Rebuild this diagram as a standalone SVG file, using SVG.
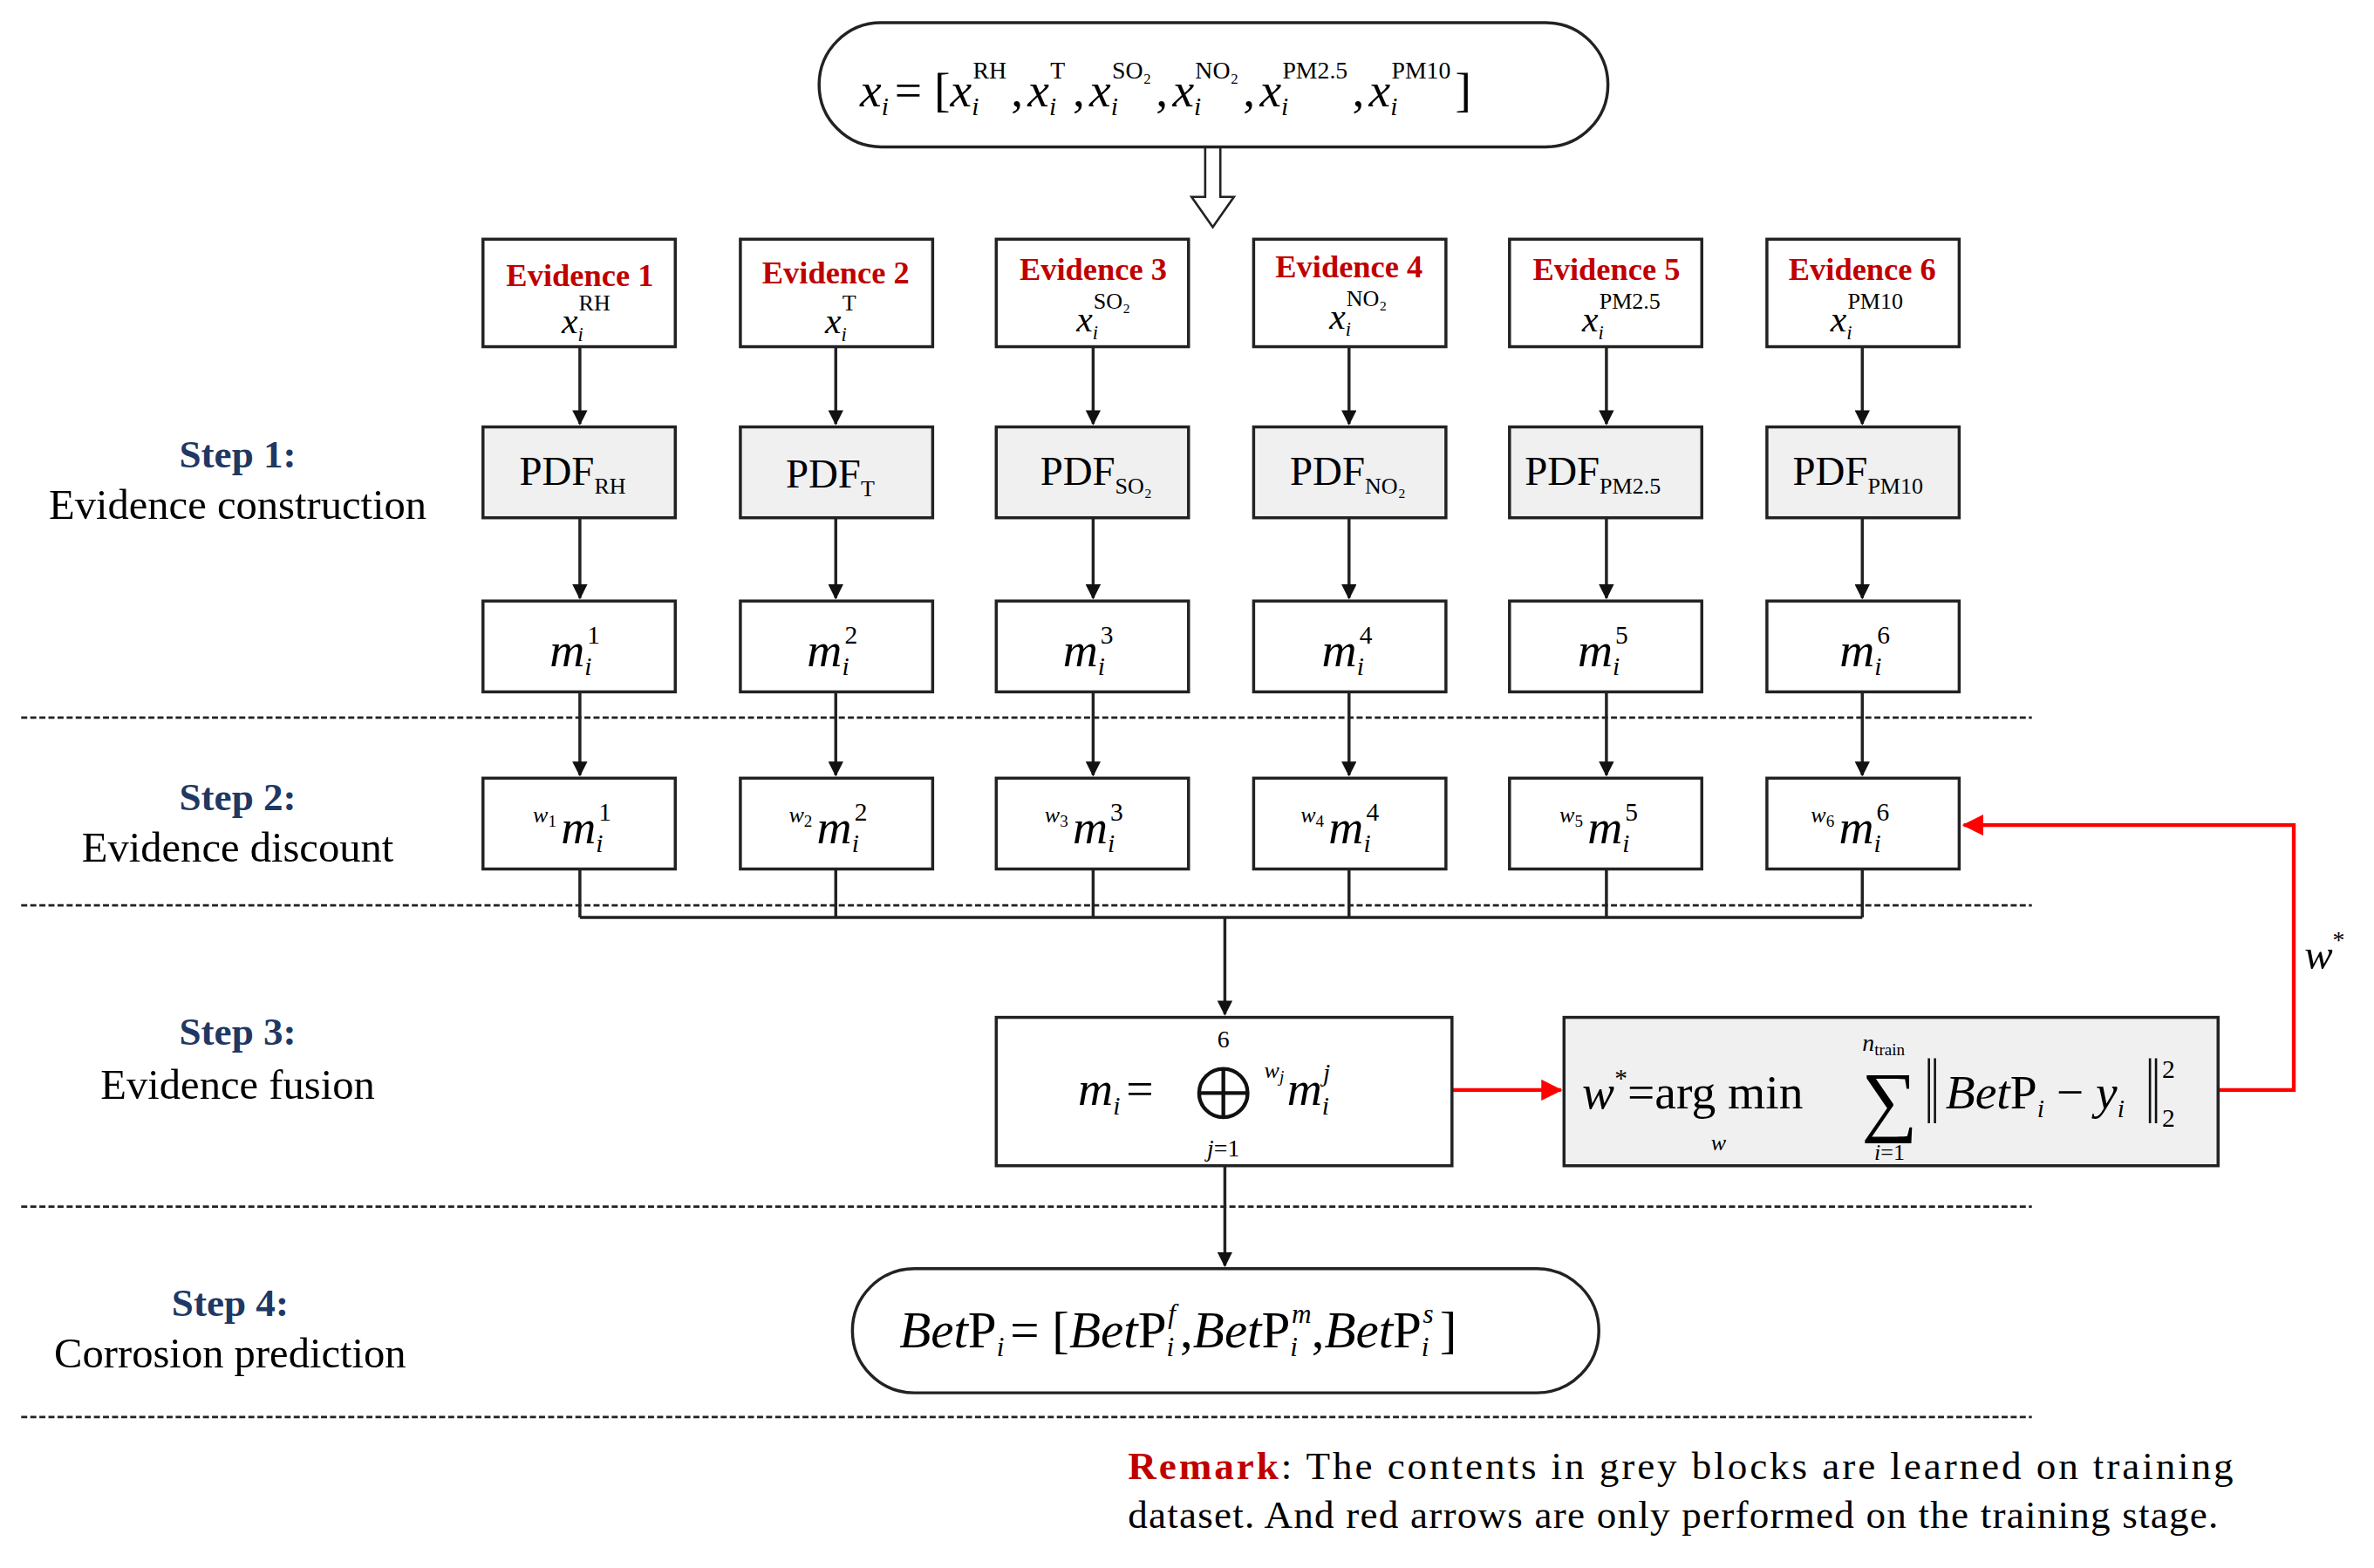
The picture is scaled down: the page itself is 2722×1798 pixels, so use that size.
<svg xmlns="http://www.w3.org/2000/svg" width="2722" height="1798" viewBox="0 0 2722 1798">
<style>
text{font-family:"Liberation Serif","Times New Roman",serif;fill:#000}
.box{fill:#fff;stroke:#222;stroke-width:2}
.grey{fill:#f0f0f0;stroke:#222;stroke-width:2}
.ev{fill:#c00000;font-weight:bold;font-size:21px}
.step{fill:#1f3864;font-weight:bold;font-size:26px}
.lab{font-size:28px}
.it{font-style:italic}
.ln{stroke:#222;stroke-width:2;fill:none}
.red{stroke:#f00;stroke-width:2.5;fill:none}
.dash{stroke:#222;stroke-width:1.5;stroke-dasharray:4 2}
</style>
<defs>
<marker id="a" markerWidth="10" markerHeight="10" refX="9" refY="5" orient="auto" markerUnits="userSpaceOnUse"><path d="M0,0 L10,5 L0,10 z" fill="#111"/></marker>
<marker id="r" markerWidth="14" markerHeight="14" refX="13" refY="7" orient="auto" markerUnits="userSpaceOnUse"><path d="M0,0 L14,7 L0,14 z" fill="#f00"/></marker>
</defs>
<rect width="2722" height="1798" fill="#fff"/>
<g transform="scale(1.736 1.736)">
<g id="connectors">
<path d="M796,97 V130 H787 L801,150 L815,130 H806 V97" fill="#fff" stroke="#222" stroke-width="1.5"/>
<g marker-end="url(#a)" class="ln">
<path d="M383,229V280"/><path d="M383,342V395"/><path d="M383,457V512"/>
<path d="M552,229V280"/><path d="M552,342V395"/><path d="M552,457V512"/>
<path d="M722,229V280"/><path d="M722,342V395"/><path d="M722,457V512"/>
<path d="M891,229V280"/><path d="M891,342V395"/><path d="M891,457V512"/>
<path d="M1061,229V280"/><path d="M1061,342V395"/><path d="M1061,457V512"/>
<path d="M1230,229V280"/><path d="M1230,342V395"/><path d="M1230,457V512"/>
</g>
<path class="ln" d="M383,574V606M552,574V606M722,574V606M891,574V606M1061,574V606M1230,574V606M383,606H1230"/>
<path class="ln" d="M809,606V670" marker-end="url(#a)"/>
<path class="ln" d="M809,770V836" marker-end="url(#a)"/>
<path class="red" d="M959,720H1031" marker-end="url(#r)"/>
<path class="red" d="M1465,720H1515V545H1297" marker-end="url(#r)"/>
<line class="dash" x1="14" y1="474" x2="1342" y2="474"/>
<line class="dash" x1="14" y1="598" x2="1342" y2="598"/>
<line class="dash" x1="14" y1="797" x2="1342" y2="797"/>
<line class="dash" x1="14" y1="936" x2="1342" y2="936"/>
</g>
<g id="input">
<rect class="box" x="541" y="15" width="521" height="82" rx="41"/>
<text x="568" y="70" font-size="32"><tspan class="it">x</tspan><tspan class="it" font-size="17" dy="6">i</tspan><tspan dy="-6" dx="4">= [</tspan><tspan class="it">x</tspan><tspan class="it" font-size="17" dy="6">i</tspan><tspan font-size="16" dy="-24" dx="-4">RH</tspan><tspan dy="18" dx="3">,</tspan><tspan class="it" dx="3">x</tspan><tspan class="it" font-size="17" dy="6">i</tspan><tspan font-size="16" dy="-24" dx="-4">T</tspan><tspan dy="18" dx="5">,</tspan><tspan class="it" dx="3">x</tspan><tspan class="it" font-size="17" dy="6">i</tspan><tspan font-size="16" dy="-24" dx="-4">SO₂</tspan><tspan dy="18" dx="3">,</tspan><tspan class="it" dx="3">x</tspan><tspan class="it" font-size="17" dy="6">i</tspan><tspan font-size="16" dy="-24" dx="-4">NO₂</tspan><tspan dy="18" dx="3">,</tspan><tspan class="it" dx="3">x</tspan><tspan class="it" font-size="17" dy="6">i</tspan><tspan font-size="16" dy="-24" dx="-4">PM2.5</tspan><tspan dy="18" dx="3">,</tspan><tspan class="it" dx="3">x</tspan><tspan class="it" font-size="17" dy="6">i</tspan><tspan font-size="16" dy="-24" dx="-4">PM10</tspan><tspan dy="18" dx="3">]</tspan></text>
</g>
<g id="evidence">
<rect class="box" x="319" y="158" width="127" height="71"/><rect class="box" x="489" y="158" width="127" height="71"/><rect class="box" x="658" y="158" width="127" height="71"/><rect class="box" x="828" y="158" width="127" height="71"/><rect class="box" x="997" y="158" width="127" height="71"/><rect class="box" x="1167" y="158" width="127" height="71"/>
<text class="ev" x="383" y="189" text-anchor="middle">Evidence 1</text>
<text class="ev" x="552" y="187" text-anchor="middle">Evidence 2</text>
<text class="ev" x="722" y="185" text-anchor="middle">Evidence 3</text>
<text class="ev" x="891" y="183" text-anchor="middle">Evidence 4</text>
<text class="ev" x="1061" y="185" text-anchor="middle">Evidence 5</text>
<text class="ev" x="1230" y="185" text-anchor="middle">Evidence 6</text>
<g font-size="24"><text x="371" y="220"><tspan class="it">x</tspan><tspan class="it" font-size="13" dy="5">i</tspan><tspan font-size="15" dy="-20" dx="-3">RH</tspan></text>
<text x="545" y="220"><tspan class="it">x</tspan><tspan class="it" font-size="13" dy="5">i</tspan><tspan font-size="15" dy="-20" dx="-3">T</tspan></text>
<text x="711" y="219"><tspan class="it">x</tspan><tspan class="it" font-size="13" dy="5">i</tspan><tspan font-size="15" dy="-20" dx="-3">SO₂</tspan></text>
<text x="878" y="217"><tspan class="it">x</tspan><tspan class="it" font-size="13" dy="5">i</tspan><tspan font-size="15" dy="-20" dx="-3">NO₂</tspan></text>
<text x="1045" y="219"><tspan class="it">x</tspan><tspan class="it" font-size="13" dy="5">i</tspan><tspan font-size="15" dy="-20" dx="-3">PM2.5</tspan></text>
<text x="1209" y="219"><tspan class="it">x</tspan><tspan class="it" font-size="13" dy="5">i</tspan><tspan font-size="15" dy="-20" dx="-3">PM10</tspan></text></g>
</g>
<g id="pdf">
<rect class="grey" x="319" y="282" width="127" height="60"/><rect class="grey" x="489" y="282" width="127" height="60"/><rect class="grey" x="658" y="282" width="127" height="60"/><rect class="grey" x="828" y="282" width="127" height="60"/><rect class="grey" x="997" y="282" width="127" height="60"/><rect class="grey" x="1167" y="282" width="127" height="60"/>
<g font-size="27"><text x="343" y="320">PDF<tspan font-size="15" dy="6">RH</tspan></text>
<text x="519" y="322">PDF<tspan font-size="15" dy="6">T</tspan></text>
<text x="687" y="320">PDF<tspan font-size="15" dy="6">SO₂</tspan></text>
<text x="852" y="320">PDF<tspan font-size="15" dy="6">NO₂</tspan></text>
<text x="1007" y="320">PDF<tspan font-size="15" dy="6">PM2.5</tspan></text>
<text x="1184" y="320">PDF<tspan font-size="15" dy="6">PM10</tspan></text></g>
</g>
<g id="mass" font-size="32">
<rect class="box" x="319" y="397" width="127" height="60"/><rect class="box" x="489" y="397" width="127" height="60"/><rect class="box" x="658" y="397" width="127" height="60"/><rect class="box" x="828" y="397" width="127" height="60"/><rect class="box" x="997" y="397" width="127" height="60"/><rect class="box" x="1167" y="397" width="127" height="60"/>
<text x="363" y="440" class="it">m<tspan font-size="17" dy="6">i</tspan><tspan font-size="17" dy="-21" dx="-3" font-style="normal">1</tspan></text>
<text x="533" y="440" class="it">m<tspan font-size="17" dy="6">i</tspan><tspan font-size="17" dy="-21" dx="-3" font-style="normal">2</tspan></text>
<text x="702" y="440" class="it">m<tspan font-size="17" dy="6">i</tspan><tspan font-size="17" dy="-21" dx="-3" font-style="normal">3</tspan></text>
<text x="873" y="440" class="it">m<tspan font-size="17" dy="6">i</tspan><tspan font-size="17" dy="-21" dx="-3" font-style="normal">4</tspan></text>
<text x="1042" y="440" class="it">m<tspan font-size="17" dy="6">i</tspan><tspan font-size="17" dy="-21" dx="-3" font-style="normal">5</tspan></text>
<text x="1215" y="440" class="it">m<tspan font-size="17" dy="6">i</tspan><tspan font-size="17" dy="-21" dx="-3" font-style="normal">6</tspan></text>
</g>
<g id="weighted" font-size="32">
<rect class="box" x="319" y="514" width="127" height="60"/><rect class="box" x="489" y="514" width="127" height="60"/><rect class="box" x="658" y="514" width="127" height="60"/><rect class="box" x="828" y="514" width="127" height="60"/><rect class="box" x="997" y="514" width="127" height="60"/><rect class="box" x="1167" y="514" width="127" height="60"/>
<text x="352" y="557" class="it"><tspan font-size="15" dy="-14">w</tspan><tspan font-size="11" dy="3" font-style="normal">1</tspan><tspan dy="11" dx="3">m</tspan><tspan font-size="17" dy="6">i</tspan><tspan font-size="17" dy="-21" dx="-3" font-style="normal">1</tspan></text>
<text x="521" y="557" class="it"><tspan font-size="15" dy="-14">w</tspan><tspan font-size="11" dy="3" font-style="normal">2</tspan><tspan dy="11" dx="3">m</tspan><tspan font-size="17" dy="6">i</tspan><tspan font-size="17" dy="-21" dx="-3" font-style="normal">2</tspan></text>
<text x="690" y="557" class="it"><tspan font-size="15" dy="-14">w</tspan><tspan font-size="11" dy="3" font-style="normal">3</tspan><tspan dy="11" dx="3">m</tspan><tspan font-size="17" dy="6">i</tspan><tspan font-size="17" dy="-21" dx="-3" font-style="normal">3</tspan></text>
<text x="859" y="557" class="it"><tspan font-size="15" dy="-14">w</tspan><tspan font-size="11" dy="3" font-style="normal">4</tspan><tspan dy="11" dx="3">m</tspan><tspan font-size="17" dy="6">i</tspan><tspan font-size="17" dy="-21" dx="-3" font-style="normal">4</tspan></text>
<text x="1030" y="557" class="it"><tspan font-size="15" dy="-14">w</tspan><tspan font-size="11" dy="3" font-style="normal">5</tspan><tspan dy="11" dx="3">m</tspan><tspan font-size="17" dy="6">i</tspan><tspan font-size="17" dy="-21" dx="-3" font-style="normal">5</tspan></text>
<text x="1196" y="557" class="it"><tspan font-size="15" dy="-14">w</tspan><tspan font-size="11" dy="3" font-style="normal">6</tspan><tspan dy="11" dx="3">m</tspan><tspan font-size="17" dy="6">i</tspan><tspan font-size="17" dy="-21" dx="-3" font-style="normal">6</tspan></text>
</g>
<g id="fusion">
<rect class="box" x="658" y="672" width="301" height="98"/>
<text x="712" y="730" font-size="32" class="it">m<tspan font-size="17" dy="6">i</tspan><tspan dy="-6" font-style="normal" dx="4">=</tspan></text>
<circle cx="808" cy="722" r="16" fill="none" stroke="#111" stroke-width="2.5"/>
<path d="M792,722H824M808,706V738" stroke="#111" stroke-width="2.5"/>
<text x="808" y="692" font-size="16" text-anchor="middle">6</text>
<text x="808" y="764" font-size="16" text-anchor="middle"><tspan class="it">j</tspan>=1</text>
<text x="835" y="730" font-size="32" class="it"><tspan font-size="15" dy="-18">w</tspan><tspan font-size="11" dy="3">j</tspan><tspan dy="15" dx="2">m</tspan><tspan font-size="17" dy="6">i</tspan><tspan font-size="17" dy="-22" dx="-4">j</tspan></text>
</g>
<g id="optim">
<rect class="grey" x="1033" y="672" width="432" height="98"/>
<text x="1045" y="732" font-size="32"><tspan class="it">w</tspan><tspan font-size="17" dy="-14">*</tspan><tspan dy="14">=arg min</tspan></text>
<text x="1130" y="760" font-size="15" class="it">w</text>
<text x="1248" y="744" font-size="52" text-anchor="middle">∑</text>
<text x="1230" y="694" font-size="16"><tspan class="it">n</tspan><tspan font-size="11" dy="3">train</tspan></text>
<text x="1248" y="766" font-size="15" text-anchor="middle"><tspan class="it">i</tspan>=1</text>
<path d="M1274,699V742M1278,699V742M1420,699V742M1424,699V742" stroke="#111" stroke-width="1.5"/>
<text x="1285" y="732" font-size="32"><tspan class="it">Bet</tspan>P<tspan class="it" font-size="17" dy="6">i</tspan><tspan dy="-6"> − </tspan><tspan class="it">y</tspan><tspan class="it" font-size="17" dy="6">i</tspan></text>
<text x="1428" y="712" font-size="17">2</text>
<text x="1428" y="744" font-size="17">2</text>
</g>
<text x="1522" y="640" font-size="28" class="it">w<tspan font-size="16" dy="-14" font-style="normal">*</tspan></text>
<g id="output">
<rect class="box" x="563" y="838" width="493" height="82" rx="41"/>
<text x="594" y="890" font-size="34"><tspan class="it">Bet</tspan>P<tspan class="it" font-size="18" dy="6">i</tspan><tspan dy="-6" dx="4">= [</tspan><tspan class="it">Bet</tspan>P<tspan class="it" font-size="18" dy="6">i</tspan><tspan class="it" font-size="18" dy="-22" dx="-4">f</tspan><tspan dy="16" dx="3">,</tspan><tspan class="it">Bet</tspan>P<tspan class="it" font-size="18" dy="6">i</tspan><tspan class="it" font-size="18" dy="-22" dx="-4">m</tspan><tspan dy="16">,</tspan><tspan class="it">Bet</tspan>P<tspan class="it" font-size="18" dy="6">i</tspan><tspan class="it" font-size="18" dy="-22" dx="-4">s</tspan><tspan dy="16" dx="4">]</tspan></text>
</g>
<g id="steps" text-anchor="middle">
<text class="step" x="157" y="309">Step 1:</text><text class="lab" x="157" y="343">Evidence construction</text>
<text class="step" x="157" y="535">Step 2:</text><text class="lab" x="157" y="569">Evidence discount</text>
<text class="step" x="157" y="690">Step 3:</text><text class="lab" x="157" y="726">Evidence fusion</text>
<text class="step" x="152" y="869">Step 4:</text><text class="lab" x="152" y="903">Corrosion prediction</text>
</g>
<g id="remark" font-size="26">
<text x="745" y="977" textLength="730"><tspan fill="#c00000" font-weight="bold">Remark</tspan>:  The contents in grey blocks are learned on training</text>
<text x="745" y="1009" textLength="720">dataset.  And red arrows are only  performed on the training stage.</text>
</g>
</g>
</svg>
